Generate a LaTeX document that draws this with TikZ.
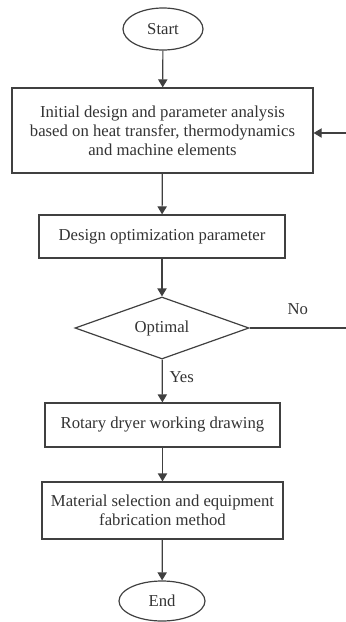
\documentclass[tikz,border=0pt]{standalone}
\usepackage{fontspec}
\setmainfont{Liberation Serif}
\usetikzlibrary{shapes.geometric,arrows.meta}

\begin{document}
\begin{tikzpicture}[x=0.5pt, y=-0.5pt, font=\fontsize{8.35}{9.4}\selectfont,
        line/.style={line width=0.6pt, draw=black!75},
        flow/.style={line, -{Triangle[length=4pt,width=4.6pt]}},
        term/.style={ellipse, line, text=black!80, inner sep=0pt},
        procbox/.style={rectangle, line, text=black!80, align=center, inner sep=0pt},
        decide/.style={diamond, line, text=black!80, inner sep=0pt, aspect=2.8}]
    \useasboundingbox (0,0) rectangle (346,622);

    \node[term, minimum width=40pt, minimum height=21pt] (start) at (163,29) {Start};
    \node[procbox, minimum width=150.5pt, minimum height=42.5pt] (analysis) at (162.5,130.5)
        {Initial design and parameter analysis\\based on heat transfer, thermodynamics\\and machine elements};
    \node[procbox, minimum width=123pt, minimum height=21.5pt] (optim) at (162,236.5) {Design optimization parameter};
    \node[decide, minimum width=87pt, minimum height=31pt] (optimal) at (162,328) {Optimal};
    \node[procbox, minimum width=117.5pt, minimum height=22pt] (drawing) at (162.5,425) {Rotary dryer working drawing};
    \node[procbox, minimum width=120.5pt, minimum height=28.5pt] (material) at (162.5,510.5)
        {Material selection and equipment\\fabrication method};
    \node[term, minimum width=43pt, minimum height=20pt] (end) at (162,601) {End};

    \coordinate (noend) at (346,328);
    \coordinate (backin) at (346,133);

    \draw[flow] (start) -- (analysis);
    \draw[flow] (analysis) -- (optim);
    \draw[flow] (optim) -- (optimal);
    \draw[flow] (optimal) -- node[right, text=black!80, pos=0.4]{Yes} (drawing);
    \draw[flow] (drawing) -- (material);
    \draw[flow] (material) -- (end);
    \draw[line] (optimal.east) -- node[above, text=black!80, pos=0.5, yshift=3pt]{No} (noend);
    \draw[flow] (backin) -- (analysis.east |- backin);
\end{tikzpicture}
\end{document}
